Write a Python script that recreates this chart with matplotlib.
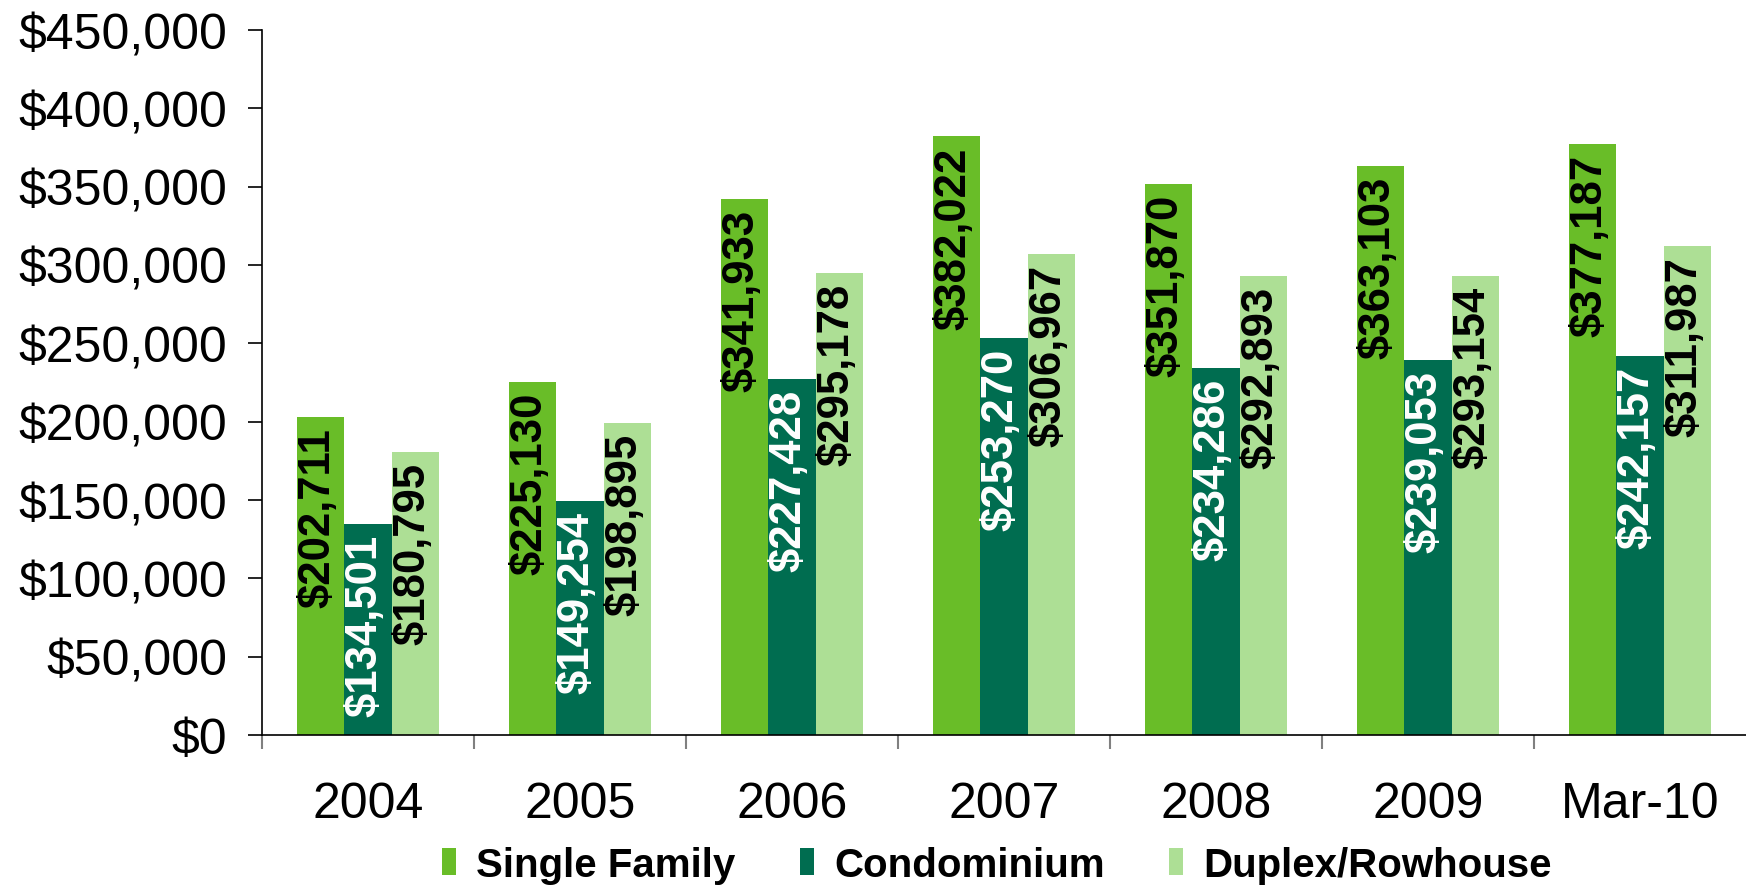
import numpy as np
import matplotlib.pyplot as plt
from matplotlib.ticker import FuncFormatter, FixedLocator

plt.rcParams['font.family'] = ['Liberation Sans', 'DejaVu Sans']

# data
categories = ['2004', '2005', '2006', '2007', '2008', '2009', 'Mar-10']
single_family = [202711, 225130, 341933, 382022, 351870, 363103, 377187]
condominium = [134501, 149254, 227428, 253270, 234286, 239053, 242157]
duplex_rowhouse = [180795, 198895, 295178, 306967, 292893, 293154, 311987]

series = [
    ('Single Family', single_family, '#69BD28', 'black'),
    ('Condominium', condominium, '#006D50', 'white'),
    ('Duplex/Rowhouse', duplex_rowhouse, '#ADDF95', 'black'),
]

W, H = 1746, 887
fig = plt.figure(figsize=(W / 100, H / 100), dpi=100)
ax = fig.add_axes([262 / W, 151 / H, 1 - 262 / W, 705 / H])

x = np.arange(len(categories)) + 0.5
width = 0.223

for i, (name, vals, color, txt_color) in enumerate(series):
    xs = x + (i - 1) * width
    ax.bar(xs, vals, width=width, color=color, label=name, linewidth=0)
    # value labels inside the top of each bar
    for xi, v in zip(xs, vals):
        ax.annotate(f'${v:,}', (xi, v), xytext=(-2, -7), textcoords='offset points',
                    rotation=90, ha='center', va='top', fontsize=31.5,
                    fontweight='bold', color=txt_color)

ax.set_xlim(0, len(categories))
ax.set_ylim(0, 450000)
ax.set_yticks(np.arange(0, 450001, 50000))
ax.yaxis.set_major_formatter(FuncFormatter(lambda v, p: f'${v:,.0f}'))
ax.tick_params(axis='y', labelsize=36, length=10, width=1.2, pad=15, direction='out')

ax.xaxis.set_major_locator(FixedLocator(range(0, len(categories))))
ax.xaxis.set_minor_locator(FixedLocator(x))
ax.set_xticklabels([], minor=False)
ax.set_xticklabels(categories, minor=True)
ax.tick_params(axis='x', which='major', length=10, width=1.5, color='#808080')
ax.tick_params(axis='x', which='minor', length=0, labelsize=36, pad=33)

for s in ['top', 'right']:
    ax.spines[s].set_visible(False)
ax.spines['left'].set_linewidth(1.2)
ax.spines['bottom'].set_linewidth(1.2)

fig.legend(loc='center', bbox_to_anchor=(997 / W, 1 - 866 / H), ncol=3, frameon=False,
           prop={'weight': 'bold', 'size': 29}, handlelength=0.35, handleheight=0.65,
           handletextpad=0.5, columnspacing=1.6, borderpad=0)

fig.savefig('out.png', dpi=100)
